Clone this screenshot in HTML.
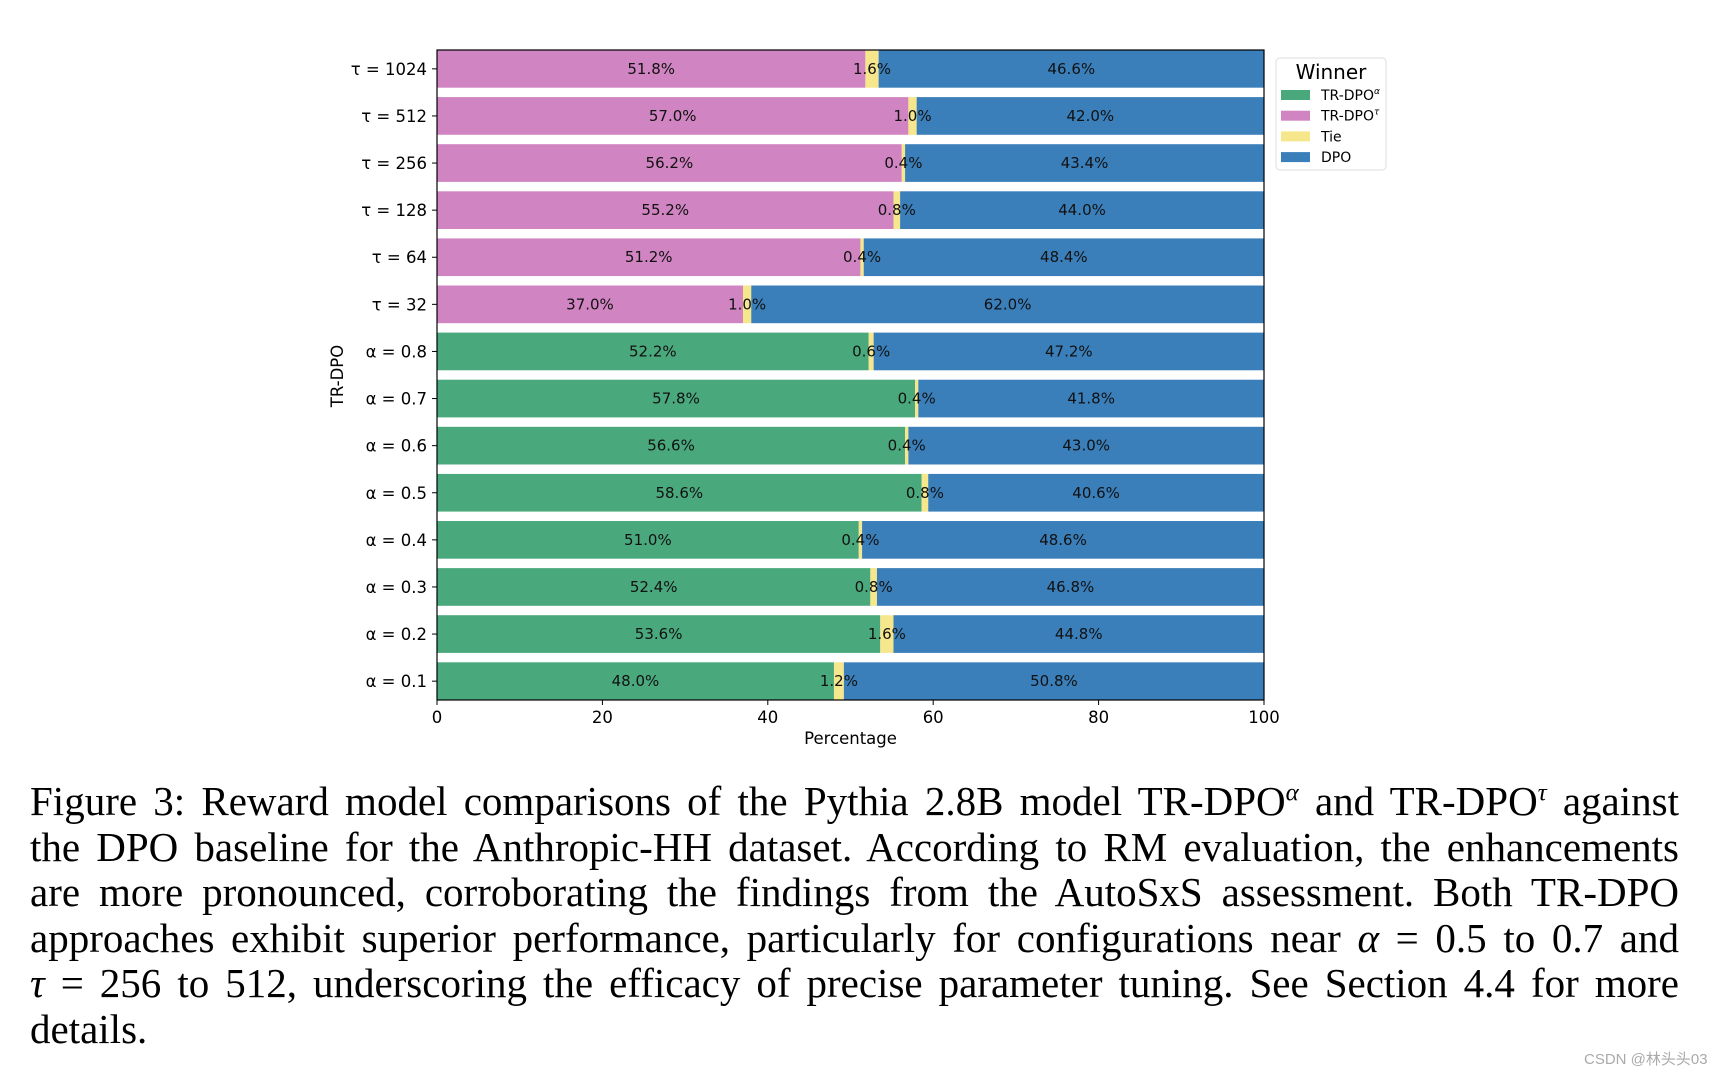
<!DOCTYPE html>
<html><head><meta charset="utf-8"><style>
body{margin:0;background:#fff;width:1726px;height:1072px;overflow:hidden;position:relative}
svg text{font-family:"DejaVu Sans","Liberation Sans",sans-serif}
.cap{position:absolute;left:30px;width:1649px;font-family:"Liberation Serif",serif;font-size:41px;line-height:45.5px;color:#000}
.ln{text-align:justify;text-align-last:justify;white-space:nowrap;height:45.5px}
.ln.last{text-align-last:left}
.wm{position:absolute;left:1584px;top:1048px;font-family:"Liberation Sans","Noto Sans CJK SC",sans-serif;font-size:15px;color:#aaa}
</style></head><body>
<svg id="chart" width="1726" height="760" style="position:absolute;left:0;top:0"></svg>
<div class="cap" style="top:779px">
<div class="ln">Figure 3: Reward model comparisons of the Pythia 2.8B model TR-DPO<sup style="font-size:25px;font-style:italic;line-height:0">α</sup> and TR-DPO<sup style="font-size:25px;font-style:italic;line-height:0">τ</sup> against</div>
<div class="ln">the DPO baseline for the Anthropic-HH dataset. According to RM evaluation, the enhancements</div>
<div class="ln">are more pronounced, corroborating the findings from the AutoSxS assessment. Both TR-DPO</div>
<div class="ln">approaches exhibit superior performance, particularly for configurations near <i>α</i> = 0.5 to 0.7 and</div>
<div class="ln"><i>τ</i> = 256 to 512, underscoring the efficacy of precise parameter tuning. See Section 4.4 for more</div>
<div class="ln last">details.</div>
</div>
<div class="wm">CSDN @林头头03</div>
<script>
const categories=["τ = 1024","τ = 512","τ = 256","τ = 128","τ = 64","τ = 32","α = 0.8","α = 0.7","α = 0.6","α = 0.5","α = 0.4","α = 0.3","α = 0.2","α = 0.1"];
const trdpoVals=[51.8,57.0,56.2,55.2,51.2,37.0,52.2,57.8,56.6,58.6,51.0,52.4,53.6,48.0];
const tieVals=[1.6,1.0,0.4,0.8,0.4,1.0,0.6,0.4,0.4,0.8,0.4,0.8,1.6,1.2];
const dpoVals=[46.6,42.0,43.4,44.0,48.4,62.0,47.2,41.8,43.0,40.6,48.6,46.8,44.8,50.8];
const xTicks=[0,20,40,60,80,100];
const svg=document.getElementById('chart');const NS='http://www.w3.org/2000/svg';
const L=437,R=1264,T=50,B=700;
const n=categories.length;
const sx=v=>L+(v/100)*(R-L);
const step=(B-T)/(n-1+0.8);
const sy=i=>T+step*(0.4+i);
const bh=step*0.8;
function mk(tag,a,p){const e=document.createElementNS(NS,tag);for(const k in a)e.setAttribute(k,a[k]);(p||svg).appendChild(e);return e;}
const C={a:'#4aa87d',t:'#d084c2',tie:'#f6e68c',dpo:'#3a7fba'};
const gBars=mk('g',{}),gLab=mk('g',{});
categories.forEach((c,i)=>{
 const y=sy(i)-bh/2;const first=c.startsWith('τ')?C.t:C.a;
 const segs=[[0,trdpoVals[i],first,'trdpo'],[trdpoVals[i],tieVals[i],C.tie,'tie'],[trdpoVals[i]+tieVals[i],dpoVals[i],C.dpo,'dpo']];
 segs.forEach(s=>{
  const r=mk('rect',{x:sx(s[0]),y:y,width:sx(s[0]+s[1])-sx(s[0]),height:bh,fill:s[2]},gBars);
  
  
  const t=mk('text',{x:(sx(s[0])+sx(s[0]+s[1]))/2,y:sy(i)+5,'text-anchor':'middle','font-size':15,fill:'#111'},gLab);
  t.textContent=s[1].toFixed(1)+'%';
  
  
 });
 const tl=mk('text',{x:L-10,y:sy(i)+6,'text-anchor':'end','font-size':16.5,fill:'#000'});
 tl.textContent=c;
 
 
 mk('line',{x1:L-5,x2:L,y1:sy(i),y2:sy(i),stroke:'#000'});
});
mk('rect',{x:L,y:T,width:R-L,height:B-T,fill:'none',stroke:'#000','stroke-width':1.2});
xTicks.forEach(v=>{
 mk('line',{x1:sx(v),x2:sx(v),y1:B,y2:B+5,stroke:'#000'});
 const t=mk('text',{x:sx(v),y:B+23,'text-anchor':'middle','font-size':16.5,fill:'#000'});
 t.textContent=v;
 
 
});
const xt=mk('text',{x:(L+R)/2,y:744,'text-anchor':'middle','font-size':16.5});xt.textContent='Percentage';


const yt=mk('text',{x:0,y:0,'text-anchor':'middle','font-size':16.5,transform:'translate(343,376) rotate(-90)'});yt.textContent='TR-DPO';


const lg=mk('g',{});


mk('rect',{x:1276,y:58,width:110,height:112,rx:4,fill:'#fff',stroke:'#ddd'},lg);
const ttl=mk('text',{x:1331,y:79,'text-anchor':'middle','font-size':20},lg);ttl.textContent='Winner';
const legNames=['TR-DPO','TR-DPO','Tie','DPO'],legSup=['α','τ','',''],legCol=[C.a,C.t,C.tie,C.dpo];
legNames.forEach((nm,k)=>{
 const yy=95+k*20.7;
 mk('rect',{x:1281,y:yy-5,width:29,height:10,fill:legCol[k]},lg);
 const t=mk('text',{x:1321,y:yy+5,'font-size':14},lg);
 t.textContent=nm;
 
 
 if(legSup[k]){const s=mk('tspan',{'font-size':9,dy:-6,'font-style':'italic'},t);s.textContent=legSup[k];}
});
</script>
</body></html>
